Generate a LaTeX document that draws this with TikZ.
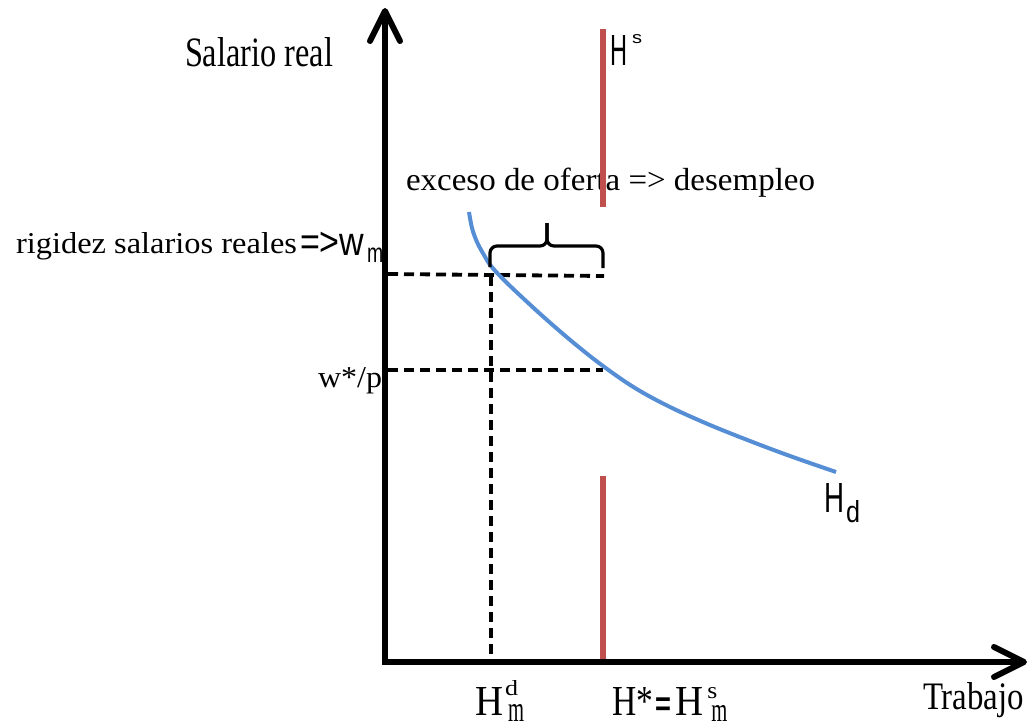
\documentclass[tikz,border=0pt]{standalone}
\usepackage{fontspec}
\setmainfont{Liberation Serif}
\newfontfamily\sansf{Liberation Sans}
\usetikzlibrary{arrows.meta}
\definecolor{supred}{RGB}{192,80,77}
\definecolor{demblue}{RGB}{85,142,213}
\begin{document}
\begin{tikzpicture}[x=1pt,y=-1pt,
  axisline/.style={line width=5.5pt,-{Straight Barb[length=30pt,width=30pt,line width=6pt,round]}},
  supply/.style={supred,line width=6pt},
  demand/.style={demblue,line width=4pt},
  dashln/.style={line width=3.8pt,dash pattern=on 10pt off 6pt},
  bracel/.style={line width=3.2pt,rounded corners=7pt},
  lbl/.style={inner sep=0pt,outer sep=0pt,anchor=base west}]
\useasboundingbox (0,0) rectangle (1030,726);
% coordinates
\coordinate (ybot) at (385,664.75);
\coordinate (ytip) at (385,8);
\coordinate (xleft) at (382.25,662);
\coordinate (xtip) at (1027,662);
\coordinate (s1a) at (603,29);
\coordinate (s1b) at (603,207);
\coordinate (s2a) at (603,476);
\coordinate (s2b) at (603,662);
\coordinate (wmL) at (388,274);
\coordinate (wmR) at (604,276);
\coordinate (hdT) at (491,276);
\coordinate (hdB) at (491,662);
\coordinate (wsL) at (388,370);
\coordinate (wsR) at (603,370);
\coordinate (brL) at (490,267);
\coordinate (brLc) at (490,246);
\coordinate (brM) at (547,246);
\coordinate (brTip) at (547,223);
\coordinate (brR) at (603,268);
\coordinate (brRc) at (603,246);
% lower supply line
\draw[supply] (s2a) -- (s2b);
% dashed guides
\draw[dashln] (wmL) -- (wmR);
\draw[dashln] (hdT) -- (hdB);
\draw[dashln] (wsL) -- (wsR);
% demand curve
\draw[demand] plot[smooth,tension=0.6] coordinates {(469,212) (472,228) (477,242) (484,255) (491,266) (505,281) (525,300) (547,320) (575,344) (603,366) (635,388) (670,407) (710,425) (750,441) (790,456) (836,472)};
% brace
\draw[bracel] (brL) -- (brLc) -- (brM) -- (brTip);
\draw[bracel] (brR) -- (brRc) -- (brM) -- (brTip);
% axes
\draw[axisline] (ybot) -- (ytip);
\draw[axisline] (xleft) -- (xtip);
% labels
\node[lbl] (salario) at (185,66) {\resizebox{148pt}{29pt}{Salario real}};
\node[lbl] (exceso) at (406,190.5) {\resizebox{409pt}{22.5pt}{exceso de oferta => desempleo}};
\node[lbl] (rigidez) at (16,253) {\resizebox{281pt}{21pt}{rigidez salarios reales}};
\node[lbl] (wm) at (300,255) {\scalebox{0.85}[1]{\fontsize{40pt}{40pt}\selectfont\sansf =>w}};
\node[lbl] (wmsub) at (367,262) {\scalebox{0.72}[1]{\fontsize{27pt}{27pt}\selectfont\sansf m}};
\node[lbl] (wstar) at (318,387) {\resizebox{64pt}{20pt}{w*/p}};
\node[lbl] (trabajo) at (923,709) {\resizebox{101pt}{27pt}{Trabajo}};
\node[lbl] (Hdm) at (475,715) {\resizebox{28pt}{28pt}{H}\hspace{2pt}\rlap{\raisebox{20pt}{\resizebox{13pt}{15pt}{d}}}\hspace{3pt}\raisebox{-6pt}{\resizebox{16pt}{17pt}{m}}};
\node[lbl] (Hstar) at (612,715) {\resizebox{41pt}{28pt}{H*}\hspace{2pt}\scalebox{0.8}[1]{\fontsize{34pt}{34pt}\selectfont\sansf\bfseries =}\hspace{4.5pt}\resizebox{28pt}{28pt}{H}\hspace{4pt}\rlap{\raisebox{17pt}{\resizebox{10pt}{11pt}{s}}}\hspace{4pt}\raisebox{-6pt}{\resizebox{16pt}{16pt}{m}}};
\node[lbl] (HS) at (610,65) {\resizebox{17pt}{30pt}{\sansf H}\hspace{5pt}\raisebox{22pt}{\resizebox{10pt}{9pt}{\sansf s}}};
\node[lbl] (HD) at (824,512) {\resizebox{20pt}{29pt}{\sansf H}\hspace{2pt}\raisebox{-10pt}{\resizebox{14pt}{22pt}{\sansf d}}};
% upper supply line (drawn over the text, as in the original)
\draw[supply] (s1a) -- (s1b);
\end{tikzpicture}
\end{document}
